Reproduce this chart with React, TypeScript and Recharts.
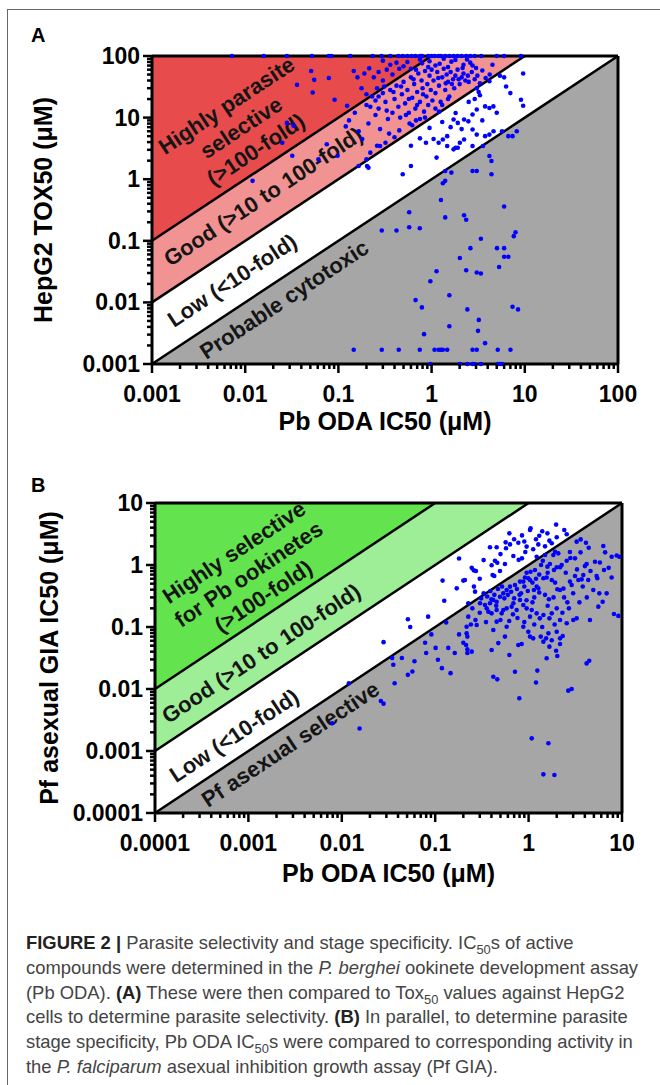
import React from 'react';
import { ComposedChart, Scatter, Area, Line, XAxis, YAxis, ReferenceLine, ReferenceDot } from 'recharts';

const FONT = '"Liberation Sans", Arial, Helvetica, sans-serif';

// ---------- Panel A data ----------
const aMajorTicks = [0.001, 0.01, 0.1, 1, 10, 100];
const aTickLabels = ['0.001', '0.01', '0.1', '1', '10', '100'];
const aBandX = [0.001, 1, 10, 100];
const aDarkLow = [0.1, 100, 100, 100];
const aDarkHigh = [100, 100, 100, 100];
const aLightLow = [0.01, 10, 100, 100];
const aLightHigh = [0.1, 100, 100, 100];
const aWhiteLow = [0.001, 1, 10, 100];
const aWhiteHigh = [0.01, 10, 100, 100];
const aGreyLow = [0.001, 0.001, 0.001, 0.001];
const aGreyHigh = [0.001, 1, 10, 100];
const aLine100 = [0.1, 100, null, null];
const aLine10 = [0.01, 10, 100, null];
const aLine1 = [0.001, 1, 10, 100];

const aPoints: [number, number][] = [
  [0.0072,100],[0.0158,100],[0.028,100],[0.052,100],[0.079,100],[0.084,100],[0.134,100],[0.233,100],[0.29,100],[0.36,100],[0.44,100],[0.49,100],[0.55,100],[0.61,100],[0.67,100],[0.75,100],[0.79,100],[0.92,100],[1.0,100],[1.08,100],[1.19,100],[1.26,100],[1.4,100],[1.55,100],[1.72,100],[1.9,100],[2.1,100],[2.35,100],[2.6,100],[2.9,100],[3.4,100],[5.0,100],[6.0,100],[9.1,100],
  [0.36,72],[0.79,76],[1.63,81],[1.8,86],[2.6,78],[0.3,84],[0.5,68],[0.6,62],[1.1,70],[1.5,66],[2.2,72],[3.0,64],[4.5,72],[0.75,88],[1.35,90],[0.42,78],[0.95,82],[2.4,88],
  [0.051,57],[0.055,41],[0.036,34],[0.053,25.6],[0.079,44],[0.091,19.5],[0.028,8.2],[0.033,7.4],[0.025,3.9],[0.012,0.94],[0.124,15.6],[0.146,57],[0.177,30],[0.214,63],[0.24,45],[0.27,55],[0.3,40],[0.33,60],[0.38,50],[0.16,45],[0.19,52],[0.26,30],[0.2,24],[0.45,62],[0.55,80],
  [0.032,2.4],[0.061,2.1],[0.075,3.7],[0.098,2.4],[0.12,7.2],[0.13,9],[0.15,12],[0.165,6],[0.18,4.5],[0.2,16],[0.21,8],[0.22,2.7],[0.23,22],[0.25,11],[0.27,14],[0.28,6.5],[0.3,25],[0.32,18],[0.34,9.5],[0.36,28],[0.38,12],[0.4,20],[0.42,33],[0.44,15],[0.46,10],[0.48,24],[0.5,38],[0.52,17],[0.55,28],[0.57,12],[0.6,45],[0.62,21],[0.65,35],[0.67,14],[0.7,26],[0.72,52],[0.75,18],[0.78,40],[0.8,30],[0.83,12.5],[0.85,57],[0.88,22],[0.9,35],[0.92,16],[0.95,48],[0.98,28],[1.0,60],[1.05,40],[1.1,25],[1.15,55],[1.2,33],[1.25,18],[1.3,45],[1.35,62],[1.4,28],[1.45,50],[1.5,38],[1.55,22],[1.6,55],[1.7,42],[1.75,30],[1.8,48],[1.9,60],[2.0,35],[2.1,45],[2.2,52],[2.3,40],[2.5,38],[2.7,55],[2.9,42],[3.1,48],[3.3,36],[3.5,58],[3.8,44],[4.2,50],[0.58,8],[0.68,9],[0.35,5.5],[0.45,6.2],[0.26,3.5],[0.4,4.8],[0.62,7.5],[0.75,9.5],[1.1,14],[1.3,16],[1.5,20],[0.85,10],[1.2,12.5],[0.22,15],[0.25,19],[0.33,13],[0.53,11],[0.7,16],
  [0.64,42],[0.92,66],[1.22,75],[1.65,35],[1.95,42],[2.15,64],[2.45,48],[2.75,70],[0.47,32],[0.39,26],[0.57,20],[0.81,24],[1.02,19],[1.18,44],[1.42,36],[0.68,60],[0.31,32],[0.27,22],
  [3.05,30],[4.17,39],[5.4,48],[6.3,32],[9.6,52],[9.1,19.5],[9.6,15.6],[3.75,15.2],[4.17,14.3],[4.6,15.2],[3.05,13.5],[2.75,11.2],[1.81,11.9],[1.72,9.3],[1.91,8.2],[2.23,9.3],[2.48,8.7],[2.75,6.4],[3.05,5.3],[3.75,5.0],[4.17,5.3],[4.62,6.0],[5.7,6.0],[6.66,5.0],[7.39,5.0],[8.2,6.0],[1.47,5.0],[1.32,4.4],[1.19,3.9],[1.47,3.45],[1.81,3.24],[2.01,3.9],[2.23,4.4],[2.75,3.45],[1.72,3.05],[1.91,3.24],[0.87,3.9],[1.13,2.24],[1.63,1.28],[1.4,1.36],[0.6,1.64],[0.49,1.2],[0.28,3.45],[0.32,3.9],[0.165,1.64],[0.2,2.1],[0.203,1.64],[0.21,1.54],[0.6,3.5],[0.75,4.6],[0.95,6.8],[1.05,4.5],[2.5,18],[3.3,23],[3.2,26],[2.9,20],[6.0,45],[7.0,25],[5.0,12],[3.5,9],[2.1,6.5],[1.6,7],[1.3,8.5],
  [3.56,3.45],[4.17,2.38],[4.39,1.98],[3.05,1.36],[2.75,1.36],[4.39,1.2],[1.4,0.94],[1.32,0.86],[1.26,0.46],[1.4,0.24],[2.23,0.26],[2.35,0.22],[6.0,0.36],[0.575,0.29],[0.42,0.147],[0.292,0.147],[0.575,0.166],[0.747,0.16],[3.38,0.108],[2.61,0.076],[5.03,0.076],[6.0,0.076],[2.01,0.0525],[6.0,0.055],[6.66,0.055],[7.95,0.138],[7.62,0.119],[5.3,0.0376],[3.38,0.0294],[2.35,0.0332],[3.05,0.0305],[1.13,0.032],[0.97,0.0221],[0.673,0.0109],[0.787,0.0083],[1.55,0.0131],[2.42,0.0077],[3.21,0.0052],[3.15,0.00345],[1.55,0.0041],[0.83,0.00305],[3.75,0.00218],[7.39,0.0085],[8.46,0.0077],
  [0.146,0.0017],[0.292,0.0017],[0.444,0.0017],[0.747,0.0017],[1.076,0.0017],[1.19,0.0017],[1.26,0.0017],[1.32,0.0017],[1.47,0.0017],[2.75,0.0017],[3.05,0.0017],[5.13,0.0017],[7.02,0.0017],
  [0.97,0.001],[2.01,0.001],[2.42,0.001],[2.75,0.001],[2.89,0.001],[3.38,0.001],[5.13,0.001],[5.41,0.001],[5.7,0.001],
];

// ---------- Panel B data ----------
const bMajorTicks = [0.0001, 0.001, 0.01, 0.1, 1, 10];
const bTickLabels = ['0.0001', '0.001', '0.01', '0.1', '1', '10'];
const bBandX = [0.0001, 0.1, 1, 10];
const bDarkLow = [0.01, 10, 10, 10];
const bDarkHigh = [10, 10, 10, 10];
const bLightLow = [0.001, 1, 10, 10];
const bLightHigh = [0.01, 10, 10, 10];
const bWhiteLow = [0.0001, 0.1, 1, 10];
const bWhiteHigh = [0.001, 1, 10, 10];
const bGreyLow = [0.0001, 0.0001, 0.0001, 0.0001];
const bGreyHigh = [0.0001, 0.1, 1, 10];
const bLine100 = [0.01, 10, null, null];
const bLine10 = [0.001, 1, 10, null];
const bLine1 = [0.0001, 0.1, 1, 10];

const bPoints: [number, number][] = [
  [1.05,3.91],[1.035,3.67],[0.622,3.24],[1.30,2.97],[1.59,3.24],[1.97,4.48],[2.41,3.67],[2.56,3.13],[0.568,2.32],[0.632,2.15],[0.776,2.29],[0.953,1.98],[1.12,1.79],[1.27,2.15],[0.386,1.93],[0.455,1.93],[0.573,1.86],[1.67,2.47],[1.77,2.24],[0.922,1.62],[0.849,1.28],[0.783,1.21],[0.687,1.40],[0.436,1.17],[0.462,1.09],[0.402,0.99],[0.558,1.04],[0.246,0.90],[0.273,0.80],[0.412,0.69],[0.429,0.665],[0.494,0.80],[0.208,0.573],[0.260,0.448],[0.267,0.372],[1.22,1.36],
  [0.18,1.27],[0.2,0.56],[0.125,0.265],[0.084,0.147],[0.054,0.10],[0.051,0.133],[0.028,0.057],[0.259,0.82],[0.17,0.42],[0.12,0.56],
  [0.7,2.6],[0.85,3.0],[1.4,3.5],[1.2,2.6],[0.5,1.5],[0.33,1.2],[0.3,0.6],[1.5,2.0],[2.0,2.8],[0.9,2.4],
  [3.27,2.38],[3.61,2.59],[4.11,2.29],[6.31,2.03],[2.77,1.62],[3.14,1.28],[2.08,1.54],[1.92,1.64],[1.84,1.45],[1.50,1.45],[1.42,1.17],[2.56,1.17],[2.26,1.0],[1.69,1.04],[1.59,0.94],[1.36,1.0],[1.17,0.83],[1.05,0.78],[0.953,0.75],[1.035,0.573],[1.10,0.52],[1.22,0.448],[1.14,0.395],[1.27,0.42],[1.44,0.61],[1.56,0.63],[1.87,0.83],[2.0,0.92],[2.17,0.92],[1.77,0.573],[1.92,0.52],[2.03,0.406],[2.17,0.395],[2.36,0.416],[2.77,0.54],[2.89,0.476],[3.14,0.665],[3.41,0.573],[3.70,0.587],[3.85,0.69],[4.35,0.573],[4.18,1.04],[4.01,0.96],[5.14,1.13],[5.35,0.665],[5.44,0.61],[6.42,0.83],[7.75,1.36],[8.77,1.42],[9.35,1.36],[7.75,0.63],[4.93,0.395],[5.72,0.349],[6.21,0.256],[5.58,0.213],[4.54,0.130],[8.20,0.162],[9.14,0.151],[6.85,0.349],
  [0.226,0.241],[0.302,0.241],[0.341,0.226],[0.386,0.241],[0.419,0.273],[0.455,0.256],[0.494,0.308],[0.536,0.349],[0.582,0.395],[0.632,0.448],[0.715,0.476],[0.809,0.54],[0.878,0.54],[0.914,0.63],[0.993,0.61],[0.226,0.147],[0.278,0.108],[0.356,0.20],[0.371,0.177],[0.402,0.166],[0.455,0.188],[0.515,0.166],[0.536,0.188],[0.582,0.20],[0.659,0.213],[0.687,0.241],[0.745,0.188],[0.809,0.273],[0.878,0.226],[0.953,0.20],[1.035,0.147],[1.08,0.188],[1.22,0.166],[1.32,0.138],[1.44,0.156],[1.67,0.138],[1.77,0.166],[2.17,0.130],[2.56,0.115],[3.01,0.130],[3.27,0.138],
  [0.31,0.29],[0.33,0.35],[0.36,0.31],[0.39,0.38],[0.43,0.33],[0.47,0.41],[0.52,0.45],[0.55,0.29],[0.6,0.33],[0.65,0.37],[0.7,0.29],[0.75,0.41],[0.83,0.35],[0.9,0.45],[0.98,0.38],[1.15,0.3],[1.3,0.36],[1.5,0.33],[1.65,0.28],[1.85,0.3],[2.4,0.3],[2.6,0.25],[1.1,0.25],[0.95,0.27],[0.68,0.16],[0.76,0.14],[0.9,0.12],[1.15,0.11],[1.4,0.1],[1.9,0.11],[2.3,0.17],[2.7,0.2],[3.5,0.25],[4.2,0.3],[0.3,0.17],[0.27,0.13],[0.35,0.12],[0.5,0.13],[0.62,0.125],[1.6,0.22],[2.0,0.2],[3.0,0.35],[3.8,0.45],[4.6,0.8],[5.8,1.1],[6.6,1.6],[7.2,0.9],[3.3,0.85],[2.5,0.75],[2.8,1.3],[3.6,1.6],[4.4,1.9],[1.3,0.7],[1.6,0.75],[1.2,0.6],[0.8,0.33],[0.45,0.22],[0.4,0.28],[0.25,0.2],
  [0.217,0.101],[0.217,0.079],[0.221,0.070],[0.214,0.0513],[0.221,0.0437],[0.246,0.040],[0.419,0.0895],[0.455,0.122],[0.582,0.101],[0.558,0.070],[0.474,0.055],[0.402,0.0425],[0.776,0.0513],[0.843,0.0532],[0.878,0.101],[0.993,0.084],[1.035,0.070],[1.12,0.0656],[1.35,0.070],[1.44,0.058],[1.54,0.0656],[1.67,0.0482],[1.63,0.079],[1.77,0.061],[2.0,0.084],[2.17,0.0656],[2.17,0.0532],[2.32,0.0716],[1.97,0.0415],[2.03,0.034],[0.622,0.0354],[1.56,0.0313],[0.419,0.0158],[0.462,0.0143],[0.715,0.019],[1.24,0.0198],[1.20,0.0127],[0.796,0.0071],[2.66,0.0094],[2.89,0.01],[4.18,0.0259],[4.46,0.0286],[1.08,0.0016],[1.63,0.00133],[1.44,0.00042],[1.89,0.00041],
  [0.0346,0.0316],[0.028,0.0058],[0.0356,0.0246],[0.0368,0.0124],[0.051,0.0169],[0.057,0.0192],[0.060,0.028],[0.044,0.0316],[0.078,0.0556],[0.080,0.038],[0.091,0.076],[0.101,0.046],[0.107,0.0297],[0.118,0.0217],[0.146,0.018],[0.138,0.046],[0.162,0.038],[0.131,0.118],[0.18,0.076],[0.2,0.0556],[0.221,0.038],[0.241,0.11],[0.0119,0.0124],[0.0155,0.0023],[0.0079,0.0028],[0.0262,0.0064],
];

const minorSteps = [1, 2, 3, 4, 5, 6, 7, 8, 9];
const withMinor = (majors: number[]) => {
  const out: number[] = [];
  majors.forEach((m, i) => {
    if (i === majors.length - 1) { out.push(m); return; }
    minorSteps.forEach((s) => out.push(Number((m * s).toPrecision(6))));
  });
  return out;
};

const buildRows = (xs: number[], dl: number[], dh: number[], ll: number[], lh: number[], wl: number[], wh: number[], gl: number[], gh: number[], l100: (number | null)[], l10: (number | null)[], l1: (number | null)[]) =>
  xs.map((x, i) => ({ x, dark: [dl[i], dh[i]], light: [ll[i], lh[i]], white: [wl[i], wh[i]], grey: [gl[i], gh[i]], l100: l100[i], l10: l10[i], l1: l1[i] }));

const aRows = buildRows(aBandX, aDarkLow, aDarkHigh, aLightLow, aLightHigh, aWhiteLow, aWhiteHigh, aGreyLow, aGreyHigh, aLine100, aLine10, aLine1);
const bRows = buildRows(bBandX, bDarkLow, bDarkHigh, bLightLow, bLightHigh, bWhiteLow, bWhiteHigh, bGreyLow, bGreyHigh, bLine100, bLine10, bLine1);

const findMajor = (majors: number[], v: number) => majors.findIndex((m) => Math.abs(m - v) / m < 1e-6);

const makeXTick = (majors: number[], labels: string[]) => (props: any) => {
  const { x, y, payload } = props;
  const idx = findMajor(majors, payload.value);
  const major = idx >= 0;
  return (
    <g>
      <line x1={x} x2={x} y1={y} y2={y + (major ? 9 : 5)} stroke="#000" strokeWidth={2.5} />
      {major && (
        <text x={x} y={y + 38} textAnchor="middle" fontSize={23} fontWeight="bold" fontFamily={FONT} fill="#000">{labels[idx]}</text>
      )}
    </g>
  );
};

const makeYTick = (majors: number[], labels: string[]) => (props: any) => {
  const { x, y, payload } = props;
  const idx = findMajor(majors, payload.value);
  const major = idx >= 0;
  return (
    <g>
      <line x1={x} x2={x - (major ? 9 : 5)} y1={y} y2={y} stroke="#000" strokeWidth={2.5} />
      {major && (
        <text x={x - 12} y={y + 8} textAnchor="end" fontSize={23} fontWeight="bold" fontFamily={FONT} fill="#000">{labels[idx]}</text>
      )}
    </g>
  );
};

const RegionText = ({ cx, cy, lines, angle }: { cx: number; cy: number; lines: string[]; angle: number }) => (
  <text transform={`rotate(${angle}, ${cx}, ${cy})`} fontFamily={FONT} fontWeight="bold" fontSize={22} fill="#151515" textAnchor="middle">
    {lines.map((l, i) => (
      <tspan key={i} x={cx} y={cy + (i - (lines.length - 1) / 2) * 26.5 + 8}>{l}</tspan>
    ))}
  </text>
);

const Dot = (p: any) => <circle cx={p.cx} cy={p.cy} r={2.3} fill="#0000ff" />;

type PanelProps = {
  rows: any[];
  points: [number, number][];
  majors: number[];
  labels: string[];
  colors: { dark: string; light: string; grey: string };
  yTitle: string;
  yTitleX: number;
  xTitleDy: number;
  margin: { top: number; right: number; bottom: number; left: number };
  texts: { x: number; y: number; lines: string[] }[];
  angle: number;
};

const Panel = ({ rows, points, majors, labels, colors, yTitle, yTitleX, xTitleDy, margin, texts, angle }: PanelProps) => {
  const domain: [number, number] = [majors[0], majors[majors.length - 1]];
  const ticks = withMinor(majors);
  const top = majors[majors.length - 1];
  const pts = points.map(([x, y]) => ({ x, y }));
  return (
    <ComposedChart width={660} height={445} data={rows} margin={margin}>
      <XAxis
        dataKey="x" type="number" scale="log" domain={domain} ticks={ticks} interval={0}
        height={75} tickSize={0} tickMargin={0} tickLine={false}
        axisLine={{ stroke: '#000', strokeWidth: 3 }}
        tick={makeXTick(majors, labels)}
        label={{
          content: (p: any) => {
            const vb = p.viewBox || {};
            return (
              <text x={vb.x + vb.width / 2} y={vb.y + xTitleDy} textAnchor="middle" fontFamily={FONT} fontWeight="bold" fontSize={25} fill="#000">Pb ODA IC50 (μM)</text>
            );
          },
        }}
      />
      <YAxis
        dataKey="y" type="number" scale="log" domain={domain} ticks={ticks} interval={0}
        width={100} tickSize={0} tickMargin={0} tickLine={false}
        axisLine={{ stroke: '#000', strokeWidth: 3 }}
        tick={makeYTick(majors, labels)}
        label={{
          content: (p: any) => {
            const vb = p.viewBox || {};
            const cy = vb.y + vb.height / 2;
            return (
              <text x={yTitleX} y={cy} transform={`rotate(-90, ${yTitleX}, ${cy})`} textAnchor="middle" fontFamily={FONT} fontWeight="bold" fontSize={25} fill="#000">{yTitle}</text>
            );
          },
        }}
      />
      <Area dataKey={(d: any) => d.grey} type="linear" stroke="none" fill={colors.grey} fillOpacity={1} isAnimationActive={false} dot={false} activeDot={false} />
      <Area dataKey={(d: any) => d.white} type="linear" stroke="none" fill="#ffffff" fillOpacity={1} isAnimationActive={false} dot={false} activeDot={false} />
      <Area dataKey={(d: any) => d.light} type="linear" stroke="none" fill={colors.light} fillOpacity={1} isAnimationActive={false} dot={false} activeDot={false} />
      <Area dataKey={(d: any) => d.dark} type="linear" stroke="none" fill={colors.dark} fillOpacity={1} isAnimationActive={false} dot={false} activeDot={false} />
      <Line dataKey="l100" type="linear" stroke="#000" strokeWidth={2.5} dot={false} activeDot={false} isAnimationActive={false} />
      <Line dataKey="l10" type="linear" stroke="#000" strokeWidth={2.5} dot={false} activeDot={false} isAnimationActive={false} />
      <Line dataKey="l1" type="linear" stroke="#000" strokeWidth={2.5} dot={false} activeDot={false} isAnimationActive={false} />
      <ReferenceLine y={top} stroke="#000" strokeWidth={3} ifOverflow="visible" />
      <ReferenceLine x={top} stroke="#000" strokeWidth={3} ifOverflow="visible" />
      {texts.map((t, i) => (
        <ReferenceDot
          key={i} x={t.x} y={t.y} r={0} ifOverflow="visible"
          shape={(p: any) => <RegionText cx={p.cx} cy={p.cy} lines={t.lines} angle={angle} />}
        />
      ))}
      <Scatter data={pts} isAnimationActive={false} shape={Dot} fill="#0000ff" />
    </ComposedChart>
  );
};

const aTexts = [
  { x: 0.009, y: 7.0, lines: ['Highly parasite', 'selective', '(>100-fold)'] },
  { x: 0.0155, y: 0.53, lines: ['Good (>10 to 100-fold)'] },
  { x: 0.0072, y: 0.023, lines: ['Low (<10-fold)'] },
  { x: 0.026, y: 0.0113, lines: ['Probable cytotoxic'] },
];
const bTexts = [
  { x: 0.001, y: 0.72, lines: ['Highly selective', 'for Pb ookinetes', '(>100-fold)'] },
  { x: 0.00136, y: 0.038, lines: ['Good (>10 to 100-fold)'] },
  { x: 0.0007, y: 0.0018, lines: ['Low (<10-fold)'] },
  { x: 0.0028, y: 0.0013, lines: ['Pf asexual selective'] },
];

const capLine: React.CSSProperties = { whiteSpace: 'nowrap', height: 24.8, lineHeight: '24.8px' };
const subStyle: React.CSSProperties = { fontSize: '0.7em', lineHeight: 0 };

export default function App() {
  return (
    <div style={{ position: 'absolute', left: 0, top: 0, width: 660, height: 1085, background: '#fff', fontFamily: FONT, overflow: 'hidden' }}>
      <div style={{ position: 'absolute', left: 7, top: 9, right: -5, bottom: -5, borderTop: '1.5px solid #666', borderLeft: '1.5px solid #666' }} />
      <div style={{ position: 'absolute', left: 31, top: 25, fontSize: 20, lineHeight: '20px', fontWeight: 'bold', color: '#000' }}>A</div>
      <div style={{ position: 'absolute', left: 31, top: 475, fontSize: 20, lineHeight: '20px', fontWeight: 'bold', color: '#000' }}>B</div>
      <div style={{ position: 'absolute', left: 0, top: 0 }}>
        <Panel
          rows={aRows} points={aPoints} majors={aMajorTicks} labels={aTickLabels}
          colors={{ dark: '#E84B4B', light: '#F19393', grey: '#A6A6A6' }}
          yTitle="HepG2 TOX50 (μM)" yTitleX={52} xTitleDy={66}
          margin={{ top: 56, right: 42, bottom: 6, left: 52 }}
          texts={aTexts} angle={-33.5}
        />
      </div>
      <div style={{ position: 'absolute', left: 0, top: 450 }}>
        <Panel
          rows={bRows} points={bPoints} majors={bMajorTicks} labels={bTickLabels}
          colors={{ dark: '#63E44F', light: '#9DEE97', grey: '#A6A6A6' }}
          yTitle="Pf asexual GIA IC50 (μM)" yTitleX={58} xTitleDy={69}
          margin={{ top: 53, right: 38, bottom: 7, left: 55 }}
          texts={bTexts} angle={-33.6}
        />
      </div>
      <div style={{ position: 'absolute', left: 26, top: 931, fontSize: 18.4, color: '#444' }}>
        <div style={capLine}><b style={{ color: '#222' }}>FIGURE 2 |</b> Parasite selectivity and stage specificity. IC<sub style={subStyle}>50</sub>s of active</div>
        <div style={capLine}>compounds were determined in the <i>P. berghei</i> ookinete development assay</div>
        <div style={capLine}>(Pb ODA). <b style={{ color: '#222' }}>(A)</b> These were then compared to Tox<sub style={subStyle}>50</sub> values against HepG2</div>
        <div style={capLine}>cells to determine parasite selectivity. <b style={{ color: '#222' }}>(B)</b> In parallel, to determine parasite</div>
        <div style={capLine}>stage specificity, Pb ODA IC<sub style={subStyle}>50</sub>s were compared to corresponding activity in</div>
        <div style={capLine}>the <i>P. falciparum</i> asexual inhibition growth assay (Pf GIA).</div>
      </div>
    </div>
  );
}
